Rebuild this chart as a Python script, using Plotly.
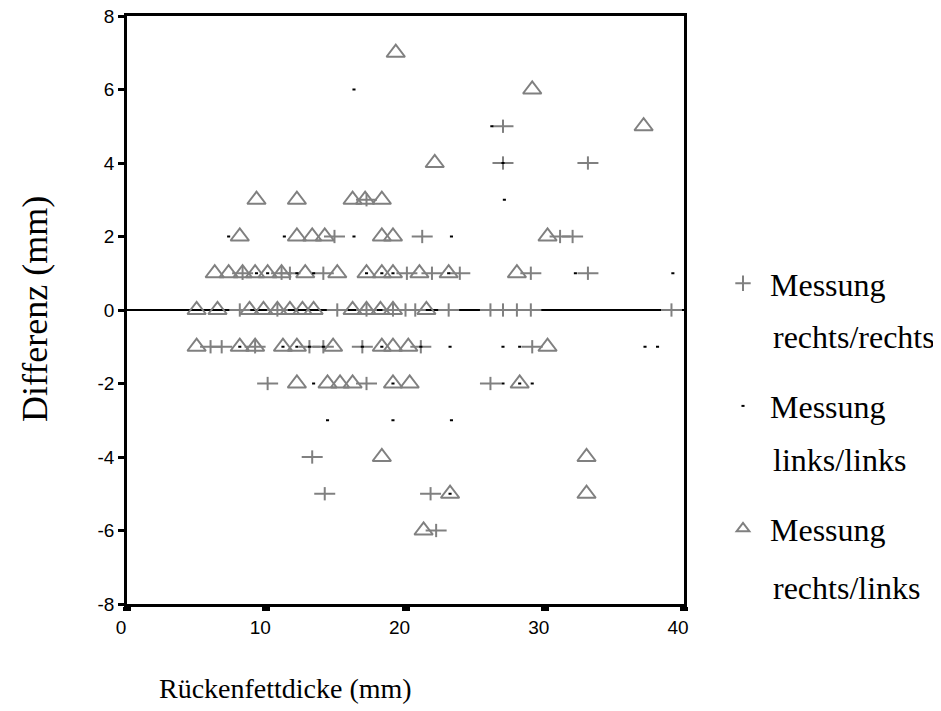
import plotly.graph_objects as go

# ---- data (x = Rückenfettdicke in mm, y = Differenz in mm) ----
# Messung rechts/rechts (+)
rr_x = [27.0, 27.0, 33.1, 17.2,
        14.9, 21.2, 31.1, 32.0,
        8.3, 11.1, 11.7, 14.1, 20.1, 21.9, 23.9, 29.0, 33.1,
        8.1, 10.8, 15.1, 17.2, 19.1, 20.0, 20.7, 23.1, 26.1, 27.0, 28.0, 29.0, 39.1,
        6.0, 6.8, 9.2, 13.1, 14.1, 16.9, 21.1, 29.1,
        10.1, 17.2, 26.1,
        13.3, 14.2, 21.8, 22.2]
rr_y = [5, 4, 4, 3,
        2, 2, 2, 2,
        1, 1, 1, 1, 1, 1, 1, 1, 1,
        0, 0, 0, 0, 0, 0, 0, 0, 0, 0, 0, 0, 0,
        -1, -1, -1, -1, -1, -1, -1, -1,
        -2, -2, -2,
        -4, -5, -5, -6]

# Messung links/links (.)
ll_x = [16.3, 26.2, 27.0, 27.1,
        7.3, 11.3, 16.3, 23.3,
        9.3, 10.1, 12.2, 13.4, 17.2, 18.3, 19.1, 23.1, 32.2, 39.2,
        9.8, 11.7, 32.3,
        8.1, 11.2, 12.2, 13.1, 14.1, 16.9, 18.3, 21.1, 23.2, 27.0, 28.2, 37.2, 38.1,
        13.4, 19.1, 27.0, 28.2, 29.1,
        14.4, 19.1, 23.3,
        23.2]
ll_y = [6, 5, 4, 3,
        2, 2, 2, 2,
        1, 1, 1, 1, 1, 1, 1, 1, 1, 1,
        0, 0, 0,
        -1, -1, -1, -1, -1, -1, -1, -1, -1, -1, -1, -1, -1,
        -2, -2, -2, -2, -2,
        -3, -3, -3,
        -5]

# Messung rechts/links (triangle)
rl_x = [19.3, 29.1, 37.1, 22.1,
        9.3, 12.2, 16.2, 17.1, 18.3,
        8.1, 12.2, 13.3, 14.2, 18.3, 19.1, 30.2,
        6.3, 7.3, 8.3, 9.2, 10.1, 11.1, 12.8, 15.1, 17.2, 18.3, 19.1, 21.0, 23.1, 28.0,
        5.0, 6.5, 8.8, 9.8, 10.8, 11.7, 12.6, 13.4, 16.2, 17.2, 18.2, 19.1, 21.5,
        5.0, 8.1, 9.2, 11.2, 12.2, 14.8, 18.3, 19.1, 20.2, 30.2,
        12.2, 14.4, 15.3, 16.2, 19.1, 20.3, 28.2,
        18.3, 33.0,
        23.2, 33.0,
        21.3]
rl_y = [7, 6, 5, 4,
        3, 3, 3, 3, 3,
        2, 2, 2, 2, 2, 2, 2,
        1, 1, 1, 1, 1, 1, 1, 1, 1, 1, 1, 1, 1, 1,
        0, 0, 0, 0, 0, 0, 0, 0, 0, 0, 0, 0, 0,
        -1, -1, -1, -1, -1, -1, -1, -1, -1, -1,
        -2, -2, -2, -2, -2, -2, -2,
        -4, -4,
        -5, -5,
        -6]

series_names = ["Messung", "Messung", "Messung"]
series_second_lines = ["rechts/rechts", "links/links", "rechts/links"]
x_ticks = [0, 10, 20, 30, 40]
y_ticks = [-8, -6, -4, -2, 0, 2, 4, 6, 8]

GRAY = "#808080"
SERIF = "Liberation Serif, Times New Roman, serif"
SANS = "Liberation Sans, Arial, sans-serif"

# page offset of the figure inside the html body
OFF = 8
W, H = 941 - OFF, 711 - OFF
PL, PR, PT, PB = 127, 684, 16, 604  # plot area in page pixels
PW, PH = PR - PL, PB - PT


def px(xp):
    return (xp - PL) / PW


def py(yp):
    return (PB - yp) / PH


fig = go.Figure()

# triangles (rechts/links)
fig.add_trace(go.Scatter(x=rl_x, y=rl_y, mode="markers", showlegend=False,
                         marker=dict(symbol="triangle-up-open", size=16, color=GRAY,
                                     line=dict(color=GRAY, width=2))))
# plus signs (rechts/rechts): horizontal and vertical strokes
fig.add_trace(go.Scatter(x=rr_x, y=rr_y, mode="markers", showlegend=False,
                         marker=dict(symbol="line-ew-open", size=15, color=GRAY,
                                     line=dict(color=GRAY, width=2))))
fig.add_trace(go.Scatter(x=rr_x, y=rr_y, mode="markers", showlegend=False,
                         marker=dict(symbol="line-ns-open", size=9.5, color=GRAY,
                                     line=dict(color=GRAY, width=2))))
# dots (links/links)
fig.add_trace(go.Scatter(x=ll_x, y=ll_y, mode="markers", showlegend=False,
                         marker=dict(symbol="line-ew-open", size=2.2, color="black",
                                     line=dict(color="black", width=2))))

# legend entries
fig.add_trace(go.Scatter(x=[None], y=[None], mode="markers", name=series_names[0],
                         legendgroup="a",
                         marker=dict(symbol="cross-thin-open", size=11, color=GRAY,
                                     line=dict(color=GRAY, width=2))))
fig.add_trace(go.Scatter(x=[None], y=[None], mode="markers", name=series_names[1],
                         legendgroup="b",
                         marker=dict(symbol="line-ew-open", size=2.2, color="black",
                                     line=dict(color="black", width=2))))
fig.add_trace(go.Scatter(x=[None], y=[None], mode="markers", name=series_names[2],
                         legendgroup="c",
                         marker=dict(symbol="triangle-up-open", size=11, color=GRAY,
                                     line=dict(color=GRAY, width=2))))

annotations = []
for txt, ypx in zip(series_second_lines, [337, 460, 588]):
    annotations.append(dict(text=txt, xref="paper", yref="paper",
                            x=px(771), y=py(ypx),
                            xanchor="left", yanchor="middle", showarrow=False,
                            font=dict(family=SERIF, size=32, color="black")))
annotations.append(dict(text="Differenz (mm)", xref="paper", yref="paper",
                        x=px(35), y=py(309), textangle=-90,
                        xanchor="center", yanchor="middle", showarrow=False,
                        font=dict(family=SERIF, size=36, color="black")))
annotations.append(dict(text="Rückenfettdicke (mm)", xref="paper", yref="paper",
                        x=px(285), y=py(688),
                        xanchor="center", yanchor="middle", showarrow=False,
                        font=dict(family=SERIF, size=28, color="black")))

fig.update_layout(
    width=W, height=H,
    margin=dict(l=PL - OFF, r=W - (PR - OFF), t=PT - OFF, b=H - (PB - OFF),
                autoexpand=False),
    paper_bgcolor="white", plot_bgcolor="white",
    annotations=annotations,
    legend=dict(x=px(716), y=py(256), xanchor="left", yanchor="top",
                font=dict(family=SERIF, size=32, color="black"),
                traceorder="grouped", tracegroupgap=78,
                bgcolor="rgba(0,0,0,0)", itemwidth=44),
    xaxis=dict(range=[0, 40], tickvals=x_ticks, ticktext=[str(v) for v in x_ticks],
               automargin=False, ticklabeloverflow="allow",
               showgrid=False, zeroline=False, showline=True, mirror=True,
               linecolor="black", linewidth=2.5,
               ticks="outside", ticklen=4, tickwidth=8, tickcolor="black",
               ticklabelshift=-6,
               tickfont=dict(family=SANS, size=19, color="black")),
    yaxis=dict(range=[-8, 8], tickvals=y_ticks, ticktext=[str(v) for v in y_ticks],
               automargin=False, ticklabeloverflow="allow",
               showgrid=False, zeroline=True, zerolinecolor="black", zerolinewidth=2,
               showline=True, mirror=True, linecolor="black", linewidth=2.5,
               ticks="outside", ticklen=6, tickwidth=3, tickcolor="black",
               tickfont=dict(family=SANS, size=19, color="black")),
)

fig.write_html("out.html")
